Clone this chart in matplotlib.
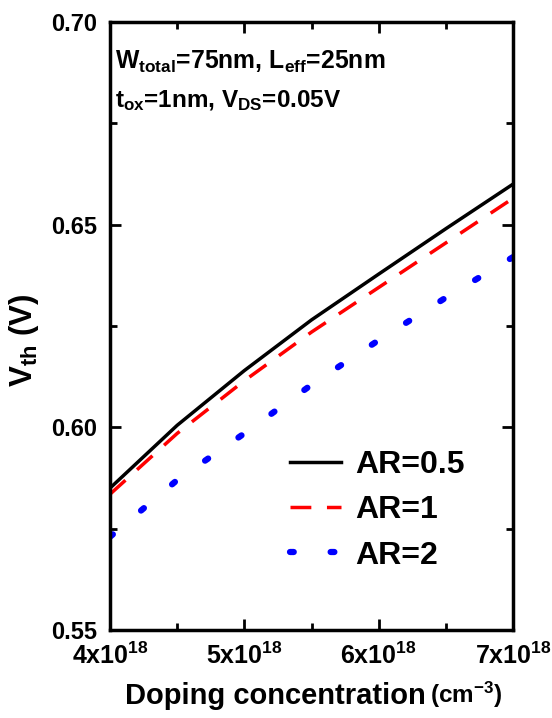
import matplotlib
matplotlib.use("Agg")
import matplotlib.pyplot as plt
from matplotlib.ticker import MultipleLocator, FixedLocator, FormatStrFormatter

plt.rcParams['font.family'] = ['Liberation Sans', 'DejaVu Sans']
plt.rcParams['font.weight'] = 'bold'
plt.rcParams['mathtext.fontset'] = 'custom'
plt.rcParams['mathtext.rm'] = 'Liberation Sans:bold'
plt.rcParams['mathtext.bf'] = 'Liberation Sans:bold'
plt.rcParams['mathtext.it'] = 'Liberation Sans:bold'
plt.rcParams['mathtext.default'] = 'bf'

doping = [4.0e18, 4.5e18, 5.0e18, 5.5e18, 6.0e18, 6.5e18, 7.0e18]
vth_ar05 = [0.585, 0.6005, 0.6140, 0.6265, 0.6378, 0.6490, 0.6600]
vth_ar1 = [0.5835, 0.5985, 0.6115, 0.6235, 0.6345, 0.6455, 0.6565]
vth_ar2 = [0.5730, 0.5870, 0.5985, 0.6105, 0.6215, 0.6320, 0.6420]
labels = ['AR=0.5', 'AR=1', 'AR=2']
xtick_vals = [4e18, 5e18, 6e18, 7e18]
xtick_labels = ['4x10$^{18}$', '5x10$^{18}$', '6x10$^{18}$', '7x10$^{18}$']

fig = plt.figure(figsize=(5.52, 7.18), dpi=100)
ax = fig.add_axes([110/552, 1-630/718, (513-110)/552, (630-22)/718])

ax.plot(doping, vth_ar05, color='black', lw=2.5, label=labels[0])
ax.plot(doping, vth_ar1, color='red', lw=2.5, dashes=(6, 4.5), label=labels[1])
ax.plot(doping, vth_ar2, color='blue', lw=4.5, dashes=(0.6, 5.9), dash_capstyle='round', label=labels[2])

ax.set_xlim(4e18, 7e18)
ax.set_ylim(0.55, 0.70)
ax.xaxis.set_major_locator(FixedLocator(xtick_vals))
ax.set_xticklabels(xtick_labels)
ax.xaxis.set_minor_locator(MultipleLocator(0.5e18))
ax.yaxis.set_major_locator(MultipleLocator(0.05))
ax.yaxis.set_minor_locator(MultipleLocator(0.025))
ax.yaxis.set_major_formatter(FormatStrFormatter('%.2f'))

ax.tick_params(which='both', direction='in', top=True, right=True, width=2)
ax.tick_params(which='major', length=8)
ax.tick_params(which='minor', length=5)
ax.tick_params(axis='x', which='major', labelsize=18, pad=9)
ax.tick_params(axis='y', which='major', labelsize=17, pad=9)
for s in ax.spines.values():
    s.set_linewidth(2.5)
for lab in ax.get_xticklabels() + ax.get_yticklabels():
    lab.set_fontweight('bold')

t1 = fig.text(125/552, 0.02, 'Doping concentration', fontsize=21, fontweight='bold',
              ha='left', va='baseline')
ax.annotate('(cm$^{-3}$)', xy=(1, 0), xycoords=t1, xytext=(3, 0), textcoords='offset points',
            fontsize=17.5, fontweight='bold', ha='left', va='bottom', annotation_clip=False)

ax.set_ylabel('V$_{th}$ (V)', fontsize=22.5, fontweight='bold')
ax.yaxis.set_label_coords(-0.17, 0.477)

ax.text(0.012, 0.934, 'W$_{total}$=75nm, L$_{eff}$=25nm', transform=ax.transAxes,
        fontsize=17.8, fontweight='bold', va='center', ha='left')
ax.text(0.012, 0.870, 't$_{ox}$=1nm, V$_{DS}$=0.05V', transform=ax.transAxes,
        fontsize=17.5, fontweight='bold', va='center', ha='left')

leg = ax.legend(loc='center left', bbox_to_anchor=(0.447, 0.197), frameon=False,
                handlelength=1.6, handletextpad=0.45, labelspacing=0.48,
                borderaxespad=0, borderpad=0,
                prop={'weight': 'bold', 'size': 23})

fig.savefig('out.png', dpi=100)
